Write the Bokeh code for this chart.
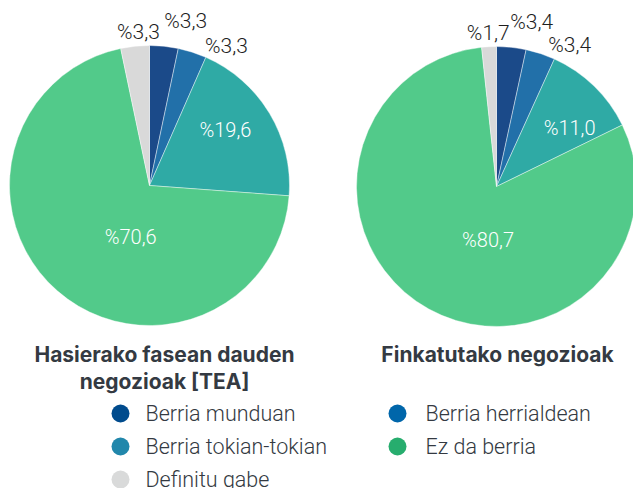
import math
from bokeh.plotting import figure
from bokeh.models import Range1d, ColumnDataSource
from bokeh.core.properties import value
from bokeh.embed import file_html
from bokeh.resources import INLINE

# ---------------- data ----------------
categories = ["Berria munduan", "Berria herrialdean", "Berria tokian-tokian",
              "Ez da berria", "Definitu gabe"]
tea_values = [3.3, 3.3, 19.6, 70.6, 3.3]           # Hasierako fasean dauden negozioak [TEA]
established_values = [3.4, 3.4, 11.0, 80.7, 1.7]   # Finkatutako negozioak
title_tea = ["Hasierako fasean dauden", "negozioak [TEA]"]
title_established = ["Finkatutako negozioak"]

# ---------------- style / layout ----------------
slice_colors = ["#1b4a89", "#2270a9", "#2faaa5", "#52ca8a", "#d9d9d9"]
legend_colors = ["#004b8d", "#0066aa", "#2187ab", "#27ad6e", "#d9dada"]
W, H = 633, 488
R = 140
pie_centers = [(149, 303), (496, 302)]
label_r = [1.20, 1.14, 0.67, 0.39, 1.10]
label_nudge = [[-6.5, -11, 5, 21, -1.8], [-6, -9, -7, 20, 0]]
title_x = [164, 497]
title_y0 = 134
title_dy = 27
legend_x = [120, 397]
legend_text_dx = [25, 28]
legend_y0 = 75
legend_dy = 33
text_dark = "#343a42"

p = figure(width=W, height=H, output_backend="svg", toolbar_location=None,
           x_range=Range1d(0, W), y_range=Range1d(0, H), min_border=0)
p.axis.visible = False
p.grid.visible = False
p.outline_line_color = None
p.background_fill_color = "white"
p.border_fill_color = "white"

for k, vals in enumerate([tea_values, established_values]):
    cx, cy = pie_centers[k]
    total = sum(vals)
    starts, ends, lx, ly, txt, tcol, tsize = [], [], [], [], [], [], []
    cum = 0.0
    for i, v in enumerate(vals):
        f = v / total
        a0 = math.pi / 2 - 2 * math.pi * cum
        a1 = math.pi / 2 - 2 * math.pi * (cum + f)
        starts.append(a0)
        ends.append(a1)
        mid = 90 - 360 * (cum + f / 2) + label_nudge[k][i]
        r = label_r[i] * R
        lx.append(cx + r * math.cos(math.radians(mid)))
        ly.append(cy + r * math.sin(math.radians(mid)))
        txt.append("%" + f"{v:.1f}".replace(".", ","))
        outside = label_r[i] > 1
        tcol.append("#1e1e1e" if outside else "white")
        tsize.append("21px" if outside else "20px")
        cum += f
    src = ColumnDataSource(dict(x=[cx] * len(vals), y=[cy] * len(vals),
                                start=starts, end=ends, color=slice_colors))
    p.wedge(x="x", y="y", radius=R, radius_units="screen", start_angle="start",
            end_angle="end", direction="clock", fill_color="color",
            line_color="white", line_width=0.6, line_alpha=0.7, source=src)
    lsrc = ColumnDataSource(dict(x=lx, y=ly, t=txt, c=tcol, s=tsize))
    p.text(x="x", y="y", text="t", text_color="c", text_font_size="s",
           source=lsrc, text_align="center", text_baseline="middle",
           text_font=value("Roboto Light"))

# titles
for k, lines in enumerate([title_tea, title_established]):
    p.text(x=[title_x[k]] * len(lines),
           y=[title_y0 - j * title_dy for j in range(len(lines))],
           text=lines, text_align="center", text_baseline="middle",
           text_font=value("Inter"), text_font_style="bold",
           text_font_size="21px", text_color=text_dark)

# legend
mx, my, tx = [], [], []
for i, c in enumerate(categories):
    mx.append(legend_x[i % 2])
    my.append(legend_y0 - (i // 2) * legend_dy)
    tx.append(legend_x[i % 2] + legend_text_dx[i % 2])
p.scatter(x=mx, y=my, size=18, marker="circle", fill_color=legend_colors,
          line_color=None)
p.text(x=tx, y=my, text=categories, text_align="left", text_baseline="middle",
       text_font=value("Roboto Light"), text_font_size="21.5px", text_color=text_dark)

open("out.html", "w").write(file_html(p, INLINE))
